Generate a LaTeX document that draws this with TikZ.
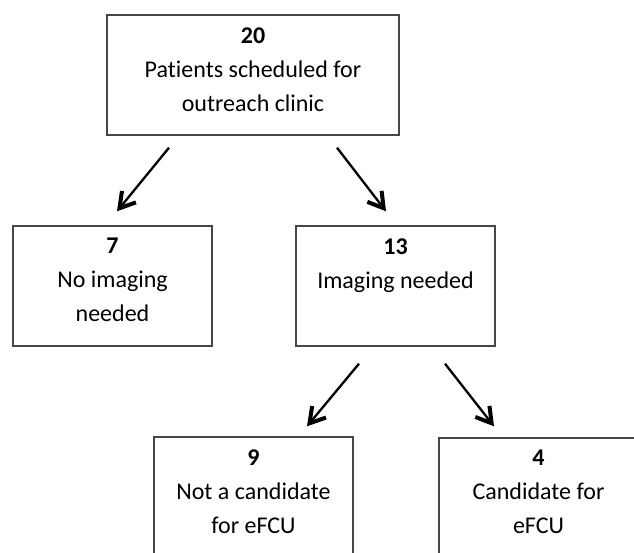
\documentclass[tikz,border=0pt]{standalone}
\usepackage{fontspec}
\setmainfont{Carlito}[Ligatures=NoCommon]
\usetikzlibrary{arrows.meta,calc}
\definecolor{boxline}{RGB}{70,70,70}
\tikzset{
  box/.style={draw=boxline, line width=1.4pt, fill=white, inner sep=0pt, minimum height=120pt},
  txt/.style={align=center, inner sep=0pt, anchor=north, text=black,
              font=\fontsize{24}{34}\selectfont},
  arr/.style={line width=2.3pt, black,
              -{Straight Barb[length=15pt,width=18pt,line width=4pt]}}
}
\begin{document}
\begin{tikzpicture}[x=1pt,y=-1pt]
\useasboundingbox (0,0) rectangle (634,553);
\clip (0,0) rectangle (634,553);
\fill[white] (0,0) rectangle (634,553);
% boxes
\node[box, minimum width=292pt] (top)   at (253,75) {};
\node[box, minimum width=199pt] (noimg) at (112.5,286) {};
\node[box, minimum width=199pt] (img)   at (395.5,286) {};
\node[box, minimum width=199pt] (notc)  at (253.5,497) {};
\node[box, minimum width=199pt] (cand)  at (538.5,498) {};
% texts
\node[txt] (ttop)   at ($(top.north)+(0,5.2)$)   {\strut\textbf{20}\\Patients scheduled for\\outreach clinic};
\node[txt] (tnoimg) at ($(noimg.north)+(0,4.5)$) {\strut\textbf{7}\\No imaging\\needed};
\node[txt] (timg)   at ($(img.north)+(0,5.5)$)   {\strut\textbf{13}\\Imaging needed};
\node[txt] (tnotc)  at ($(notc.north)+(0,5.2)$)  {\strut\textbf{9}\\Not a candidate\\for eFCU};
\node[txt] (tcand)  at ($(cand.north)+(0,4.5)$)  {\strut\textbf{4}\\Candidate for\\eFCU};
% arrows
\draw[arr] ($(top.south)+(-84,12)$) -- ($(noimg.north)+(4.5,-14)$);
\draw[arr] ($(top.south)+(84,12)$)  -- ($(img.north)+(-9.5,-14)$);
\draw[arr] ($(img.south)+(-36.5,17)$) -- ($(notc.north)+(53.5,-10)$);
\draw[arr] ($(img.south)+(49.5,17)$)  -- ($(cand.north)+(-44.5,-11)$);
\end{tikzpicture}
\end{document}
